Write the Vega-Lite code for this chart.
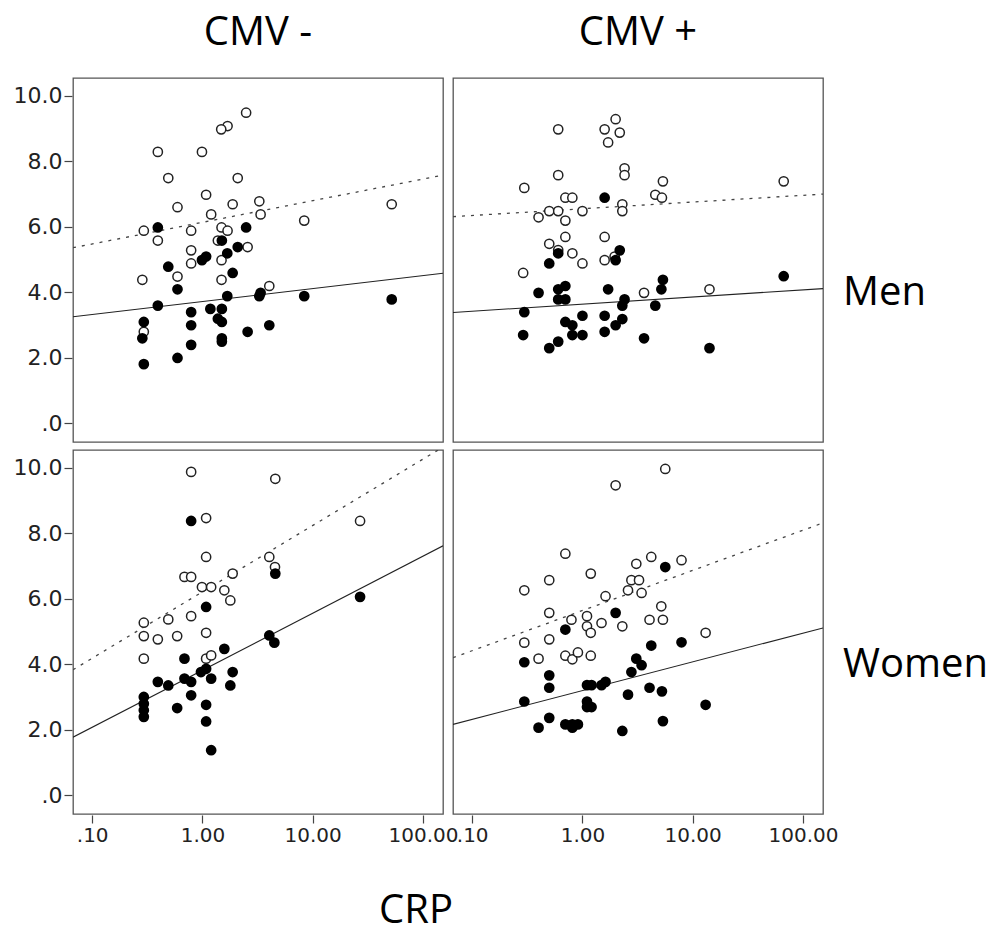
{
  "$schema": "https://vega.github.io/schema/vega-lite/v6.json",
  "padding": {"left": 13, "top": 13, "right": 0, "bottom": 8},
  "background": "white",
  "config": {
    "view": {"stroke": "#555", "strokeWidth": 1.3},
    "font": "DejaVu Sans",
    "axis": {"grid": false, "domain": false, "tickSize": 8, "tickColor": "#444", "tickWidth": 1.2, "labelFont": "DejaVu Sans", "labelFontSize": 20, "labelColor": "#222", "labelPadding": 2, "labelOverlap": false, "labelBound": false, "labelFlush": false, "title": null}
  },
  "title": {"text": "CRP", "orient": "bottom", "anchor": "start", "font": "Open Sans", "fontSize": 40, "fontWeight": "normal", "color": "#000", "offset": 46, "dx": 366},
  "data": {"values": [
    {"sex":"Men","cmv":"CMV -","crp":2.49,"val":9.49,"grp":"open"},
    {"sex":"Men","cmv":"CMV -","crp":1.69,"val":9.08,"grp":"open"},
    {"sex":"Men","cmv":"CMV -","crp":1.48,"val":8.98,"grp":"open"},
    {"sex":"Men","cmv":"CMV -","crp":0.394,"val":8.29,"grp":"open"},
    {"sex":"Men","cmv":"CMV -","crp":0.99,"val":8.29,"grp":"open"},
    {"sex":"Men","cmv":"CMV -","crp":0.49,"val":7.49,"grp":"open"},
    {"sex":"Men","cmv":"CMV -","crp":2.09,"val":7.49,"grp":"open"},
    {"sex":"Men","cmv":"CMV -","crp":1.08,"val":6.98,"grp":"open"},
    {"sex":"Men","cmv":"CMV -","crp":0.594,"val":6.6,"grp":"open"},
    {"sex":"Men","cmv":"CMV -","crp":1.88,"val":6.69,"grp":"open"},
    {"sex":"Men","cmv":"CMV -","crp":3.28,"val":6.78,"grp":"open"},
    {"sex":"Men","cmv":"CMV -","crp":52.1,"val":6.69,"grp":"open"},
    {"sex":"Men","cmv":"CMV -","crp":1.2,"val":6.38,"grp":"open"},
    {"sex":"Men","cmv":"CMV -","crp":3.37,"val":6.38,"grp":"open"},
    {"sex":"Men","cmv":"CMV -","crp":8.38,"val":6.19,"grp":"open"},
    {"sex":"Men","cmv":"CMV -","crp":0.294,"val":5.88,"grp":"open"},
    {"sex":"Men","cmv":"CMV -","crp":0.79,"val":5.88,"grp":"open"},
    {"sex":"Men","cmv":"CMV -","crp":1.49,"val":5.98,"grp":"open"},
    {"sex":"Men","cmv":"CMV -","crp":1.69,"val":5.88,"grp":"open"},
    {"sex":"Men","cmv":"CMV -","crp":0.394,"val":5.58,"grp":"open"},
    {"sex":"Men","cmv":"CMV -","crp":1.38,"val":5.58,"grp":"open"},
    {"sex":"Men","cmv":"CMV -","crp":2.57,"val":5.38,"grp":"open"},
    {"sex":"Men","cmv":"CMV -","crp":0.79,"val":5.28,"grp":"open"},
    {"sex":"Men","cmv":"CMV -","crp":0.79,"val":4.88,"grp":"open"},
    {"sex":"Men","cmv":"CMV -","crp":1.49,"val":4.98,"grp":"open"},
    {"sex":"Men","cmv":"CMV -","crp":0.285,"val":4.38,"grp":"open"},
    {"sex":"Men","cmv":"CMV -","crp":0.594,"val":4.48,"grp":"open"},
    {"sex":"Men","cmv":"CMV -","crp":1.49,"val":4.38,"grp":"open"},
    {"sex":"Men","cmv":"CMV -","crp":4.04,"val":4.19,"grp":"open"},
    {"sex":"Men","cmv":"CMV -","crp":0.294,"val":2.79,"grp":"open"},
    {"sex":"Men","cmv":"CMV -","crp":0.394,"val":5.98,"grp":"filled"},
    {"sex":"Men","cmv":"CMV -","crp":2.49,"val":5.98,"grp":"filled"},
    {"sex":"Men","cmv":"CMV -","crp":1.5,"val":5.58,"grp":"filled"},
    {"sex":"Men","cmv":"CMV -","crp":2.09,"val":5.38,"grp":"filled"},
    {"sex":"Men","cmv":"CMV -","crp":1.68,"val":5.19,"grp":"filled"},
    {"sex":"Men","cmv":"CMV -","crp":1.08,"val":5.09,"grp":"filled"},
    {"sex":"Men","cmv":"CMV -","crp":0.99,"val":4.98,"grp":"filled"},
    {"sex":"Men","cmv":"CMV -","crp":0.49,"val":4.78,"grp":"filled"},
    {"sex":"Men","cmv":"CMV -","crp":1.88,"val":4.59,"grp":"filled"},
    {"sex":"Men","cmv":"CMV -","crp":0.594,"val":4.09,"grp":"filled"},
    {"sex":"Men","cmv":"CMV -","crp":1.68,"val":3.88,"grp":"filled"},
    {"sex":"Men","cmv":"CMV -","crp":3.28,"val":3.88,"grp":"filled"},
    {"sex":"Men","cmv":"CMV -","crp":3.37,"val":3.98,"grp":"filled"},
    {"sex":"Men","cmv":"CMV -","crp":8.38,"val":3.88,"grp":"filled"},
    {"sex":"Men","cmv":"CMV -","crp":52.1,"val":3.78,"grp":"filled"},
    {"sex":"Men","cmv":"CMV -","crp":0.394,"val":3.59,"grp":"filled"},
    {"sex":"Men","cmv":"CMV -","crp":0.79,"val":3.39,"grp":"filled"},
    {"sex":"Men","cmv":"CMV -","crp":1.18,"val":3.49,"grp":"filled"},
    {"sex":"Men","cmv":"CMV -","crp":1.5,"val":3.49,"grp":"filled"},
    {"sex":"Men","cmv":"CMV -","crp":1.38,"val":3.19,"grp":"filled"},
    {"sex":"Men","cmv":"CMV -","crp":1.5,"val":3.09,"grp":"filled"},
    {"sex":"Men","cmv":"CMV -","crp":0.79,"val":2.99,"grp":"filled"},
    {"sex":"Men","cmv":"CMV -","crp":0.294,"val":3.09,"grp":"filled"},
    {"sex":"Men","cmv":"CMV -","crp":4.04,"val":2.99,"grp":"filled"},
    {"sex":"Men","cmv":"CMV -","crp":2.57,"val":2.79,"grp":"filled"},
    {"sex":"Men","cmv":"CMV -","crp":0.285,"val":2.59,"grp":"filled"},
    {"sex":"Men","cmv":"CMV -","crp":1.5,"val":2.59,"grp":"filled"},
    {"sex":"Men","cmv":"CMV -","crp":1.5,"val":2.49,"grp":"filled"},
    {"sex":"Men","cmv":"CMV -","crp":0.79,"val":2.39,"grp":"filled"},
    {"sex":"Men","cmv":"CMV -","crp":0.594,"val":1.99,"grp":"filled"},
    {"sex":"Men","cmv":"CMV -","crp":0.294,"val":1.8,"grp":"filled"},
    {"sex":"Men","cmv":"CMV +","crp":2.0,"val":9.29,"grp":"open"},
    {"sex":"Men","cmv":"CMV +","crp":0.603,"val":8.98,"grp":"open"},
    {"sex":"Men","cmv":"CMV +","crp":1.59,"val":8.98,"grp":"open"},
    {"sex":"Men","cmv":"CMV +","crp":2.18,"val":8.88,"grp":"open"},
    {"sex":"Men","cmv":"CMV +","crp":1.71,"val":8.58,"grp":"open"},
    {"sex":"Men","cmv":"CMV +","crp":2.41,"val":7.79,"grp":"open"},
    {"sex":"Men","cmv":"CMV +","crp":2.41,"val":7.58,"grp":"open"},
    {"sex":"Men","cmv":"CMV +","crp":0.603,"val":7.58,"grp":"open"},
    {"sex":"Men","cmv":"CMV +","crp":5.37,"val":7.39,"grp":"open"},
    {"sex":"Men","cmv":"CMV +","crp":66.9,"val":7.39,"grp":"open"},
    {"sex":"Men","cmv":"CMV +","crp":0.297,"val":7.19,"grp":"open"},
    {"sex":"Men","cmv":"CMV +","crp":0.7,"val":6.89,"grp":"open"},
    {"sex":"Men","cmv":"CMV +","crp":0.81,"val":6.89,"grp":"open"},
    {"sex":"Men","cmv":"CMV +","crp":4.58,"val":6.98,"grp":"open"},
    {"sex":"Men","cmv":"CMV +","crp":5.26,"val":6.89,"grp":"open"},
    {"sex":"Men","cmv":"CMV +","crp":2.3,"val":6.69,"grp":"open"},
    {"sex":"Men","cmv":"CMV +","crp":2.3,"val":6.48,"grp":"open"},
    {"sex":"Men","cmv":"CMV +","crp":0.5,"val":6.48,"grp":"open"},
    {"sex":"Men","cmv":"CMV +","crp":0.603,"val":6.48,"grp":"open"},
    {"sex":"Men","cmv":"CMV +","crp":1.0,"val":6.48,"grp":"open"},
    {"sex":"Men","cmv":"CMV +","crp":0.4,"val":6.29,"grp":"open"},
    {"sex":"Men","cmv":"CMV +","crp":0.7,"val":6.19,"grp":"open"},
    {"sex":"Men","cmv":"CMV +","crp":0.7,"val":5.69,"grp":"open"},
    {"sex":"Men","cmv":"CMV +","crp":1.59,"val":5.69,"grp":"open"},
    {"sex":"Men","cmv":"CMV +","crp":0.5,"val":5.48,"grp":"open"},
    {"sex":"Men","cmv":"CMV +","crp":0.603,"val":5.29,"grp":"open"},
    {"sex":"Men","cmv":"CMV +","crp":0.81,"val":5.19,"grp":"open"},
    {"sex":"Men","cmv":"CMV +","crp":1.96,"val":5.09,"grp":"open"},
    {"sex":"Men","cmv":"CMV +","crp":1.59,"val":4.98,"grp":"open"},
    {"sex":"Men","cmv":"CMV +","crp":1.0,"val":4.88,"grp":"open"},
    {"sex":"Men","cmv":"CMV +","crp":0.29,"val":4.59,"grp":"open"},
    {"sex":"Men","cmv":"CMV +","crp":3.62,"val":3.98,"grp":"open"},
    {"sex":"Men","cmv":"CMV +","crp":14.2,"val":4.09,"grp":"open"},
    {"sex":"Men","cmv":"CMV +","crp":1.59,"val":6.89,"grp":"filled"},
    {"sex":"Men","cmv":"CMV +","crp":2.18,"val":5.28,"grp":"filled"},
    {"sex":"Men","cmv":"CMV +","crp":0.603,"val":5.19,"grp":"filled"},
    {"sex":"Men","cmv":"CMV +","crp":2.0,"val":4.98,"grp":"filled"},
    {"sex":"Men","cmv":"CMV +","crp":0.5,"val":4.88,"grp":"filled"},
    {"sex":"Men","cmv":"CMV +","crp":66.9,"val":4.49,"grp":"filled"},
    {"sex":"Men","cmv":"CMV +","crp":5.37,"val":4.38,"grp":"filled"},
    {"sex":"Men","cmv":"CMV +","crp":0.7,"val":4.19,"grp":"filled"},
    {"sex":"Men","cmv":"CMV +","crp":0.603,"val":4.09,"grp":"filled"},
    {"sex":"Men","cmv":"CMV +","crp":1.71,"val":4.09,"grp":"filled"},
    {"sex":"Men","cmv":"CMV +","crp":0.4,"val":3.98,"grp":"filled"},
    {"sex":"Men","cmv":"CMV +","crp":5.2,"val":4.09,"grp":"filled"},
    {"sex":"Men","cmv":"CMV +","crp":0.603,"val":3.78,"grp":"filled"},
    {"sex":"Men","cmv":"CMV +","crp":0.7,"val":3.78,"grp":"filled"},
    {"sex":"Men","cmv":"CMV +","crp":2.41,"val":3.78,"grp":"filled"},
    {"sex":"Men","cmv":"CMV +","crp":2.3,"val":3.59,"grp":"filled"},
    {"sex":"Men","cmv":"CMV +","crp":4.58,"val":3.59,"grp":"filled"},
    {"sex":"Men","cmv":"CMV +","crp":0.297,"val":3.39,"grp":"filled"},
    {"sex":"Men","cmv":"CMV +","crp":1.0,"val":3.28,"grp":"filled"},
    {"sex":"Men","cmv":"CMV +","crp":1.59,"val":3.28,"grp":"filled"},
    {"sex":"Men","cmv":"CMV +","crp":2.3,"val":3.18,"grp":"filled"},
    {"sex":"Men","cmv":"CMV +","crp":0.7,"val":3.09,"grp":"filled"},
    {"sex":"Men","cmv":"CMV +","crp":0.81,"val":2.99,"grp":"filled"},
    {"sex":"Men","cmv":"CMV +","crp":2.0,"val":2.99,"grp":"filled"},
    {"sex":"Men","cmv":"CMV +","crp":0.29,"val":2.69,"grp":"filled"},
    {"sex":"Men","cmv":"CMV +","crp":0.81,"val":2.69,"grp":"filled"},
    {"sex":"Men","cmv":"CMV +","crp":1.0,"val":2.69,"grp":"filled"},
    {"sex":"Men","cmv":"CMV +","crp":1.59,"val":2.79,"grp":"filled"},
    {"sex":"Men","cmv":"CMV +","crp":3.62,"val":2.59,"grp":"filled"},
    {"sex":"Men","cmv":"CMV +","crp":0.603,"val":2.49,"grp":"filled"},
    {"sex":"Men","cmv":"CMV +","crp":0.5,"val":2.29,"grp":"filled"},
    {"sex":"Men","cmv":"CMV +","crp":14.2,"val":2.29,"grp":"filled"},
    {"sex":"Women","cmv":"CMV -","crp":0.79,"val":9.88,"grp":"open"},
    {"sex":"Women","cmv":"CMV -","crp":4.58,"val":9.67,"grp":"open"},
    {"sex":"Women","cmv":"CMV -","crp":1.08,"val":8.47,"grp":"open"},
    {"sex":"Women","cmv":"CMV -","crp":26.9,"val":8.38,"grp":"open"},
    {"sex":"Women","cmv":"CMV -","crp":1.08,"val":7.28,"grp":"open"},
    {"sex":"Women","cmv":"CMV -","crp":4.04,"val":7.28,"grp":"open"},
    {"sex":"Women","cmv":"CMV -","crp":4.55,"val":6.97,"grp":"open"},
    {"sex":"Women","cmv":"CMV -","crp":0.687,"val":6.67,"grp":"open"},
    {"sex":"Women","cmv":"CMV -","crp":0.79,"val":6.67,"grp":"open"},
    {"sex":"Women","cmv":"CMV -","crp":1.88,"val":6.77,"grp":"open"},
    {"sex":"Women","cmv":"CMV -","crp":0.99,"val":6.36,"grp":"open"},
    {"sex":"Women","cmv":"CMV -","crp":1.2,"val":6.36,"grp":"open"},
    {"sex":"Women","cmv":"CMV -","crp":1.58,"val":6.26,"grp":"open"},
    {"sex":"Women","cmv":"CMV -","crp":1.79,"val":5.95,"grp":"open"},
    {"sex":"Women","cmv":"CMV -","crp":0.49,"val":5.37,"grp":"open"},
    {"sex":"Women","cmv":"CMV -","crp":0.79,"val":5.47,"grp":"open"},
    {"sex":"Women","cmv":"CMV -","crp":0.294,"val":5.27,"grp":"open"},
    {"sex":"Women","cmv":"CMV -","crp":0.294,"val":4.86,"grp":"open"},
    {"sex":"Women","cmv":"CMV -","crp":0.394,"val":4.76,"grp":"open"},
    {"sex":"Women","cmv":"CMV -","crp":0.59,"val":4.86,"grp":"open"},
    {"sex":"Women","cmv":"CMV -","crp":1.08,"val":4.96,"grp":"open"},
    {"sex":"Women","cmv":"CMV -","crp":0.294,"val":4.17,"grp":"open"},
    {"sex":"Women","cmv":"CMV -","crp":1.08,"val":4.17,"grp":"open"},
    {"sex":"Women","cmv":"CMV -","crp":1.2,"val":4.27,"grp":"open"},
    {"sex":"Women","cmv":"CMV -","crp":0.79,"val":8.38,"grp":"filled"},
    {"sex":"Women","cmv":"CMV -","crp":4.58,"val":6.77,"grp":"filled"},
    {"sex":"Women","cmv":"CMV -","crp":26.9,"val":6.06,"grp":"filled"},
    {"sex":"Women","cmv":"CMV -","crp":1.08,"val":5.75,"grp":"filled"},
    {"sex":"Women","cmv":"CMV -","crp":4.04,"val":4.88,"grp":"filled"},
    {"sex":"Women","cmv":"CMV -","crp":4.49,"val":4.66,"grp":"filled"},
    {"sex":"Women","cmv":"CMV -","crp":1.58,"val":4.47,"grp":"filled"},
    {"sex":"Women","cmv":"CMV -","crp":0.687,"val":4.17,"grp":"filled"},
    {"sex":"Women","cmv":"CMV -","crp":1.88,"val":3.76,"grp":"filled"},
    {"sex":"Women","cmv":"CMV -","crp":0.97,"val":3.76,"grp":"filled"},
    {"sex":"Women","cmv":"CMV -","crp":1.08,"val":3.86,"grp":"filled"},
    {"sex":"Women","cmv":"CMV -","crp":0.394,"val":3.46,"grp":"filled"},
    {"sex":"Women","cmv":"CMV -","crp":0.49,"val":3.35,"grp":"filled"},
    {"sex":"Women","cmv":"CMV -","crp":0.687,"val":3.56,"grp":"filled"},
    {"sex":"Women","cmv":"CMV -","crp":0.79,"val":3.46,"grp":"filled"},
    {"sex":"Women","cmv":"CMV -","crp":1.2,"val":3.56,"grp":"filled"},
    {"sex":"Women","cmv":"CMV -","crp":1.79,"val":3.35,"grp":"filled"},
    {"sex":"Women","cmv":"CMV -","crp":0.79,"val":3.05,"grp":"filled"},
    {"sex":"Women","cmv":"CMV -","crp":0.294,"val":3.0,"grp":"filled"},
    {"sex":"Women","cmv":"CMV -","crp":0.294,"val":2.79,"grp":"filled"},
    {"sex":"Women","cmv":"CMV -","crp":0.294,"val":2.59,"grp":"filled"},
    {"sex":"Women","cmv":"CMV -","crp":0.294,"val":2.39,"grp":"filled"},
    {"sex":"Women","cmv":"CMV -","crp":0.59,"val":2.66,"grp":"filled"},
    {"sex":"Women","cmv":"CMV -","crp":1.08,"val":2.76,"grp":"filled"},
    {"sex":"Women","cmv":"CMV -","crp":1.08,"val":2.25,"grp":"filled"},
    {"sex":"Women","cmv":"CMV -","crp":1.2,"val":1.37,"grp":"filled"},
    {"sex":"Women","cmv":"CMV +","crp":5.64,"val":9.97,"grp":"open"},
    {"sex":"Women","cmv":"CMV +","crp":2.0,"val":9.47,"grp":"open"},
    {"sex":"Women","cmv":"CMV +","crp":0.7,"val":7.38,"grp":"open"},
    {"sex":"Women","cmv":"CMV +","crp":4.21,"val":7.28,"grp":"open"},
    {"sex":"Women","cmv":"CMV +","crp":7.92,"val":7.18,"grp":"open"},
    {"sex":"Women","cmv":"CMV +","crp":3.08,"val":7.07,"grp":"open"},
    {"sex":"Women","cmv":"CMV +","crp":1.19,"val":6.77,"grp":"open"},
    {"sex":"Women","cmv":"CMV +","crp":0.5,"val":6.57,"grp":"open"},
    {"sex":"Women","cmv":"CMV +","crp":2.78,"val":6.57,"grp":"open"},
    {"sex":"Women","cmv":"CMV +","crp":3.26,"val":6.57,"grp":"open"},
    {"sex":"Women","cmv":"CMV +","crp":0.297,"val":6.26,"grp":"open"},
    {"sex":"Women","cmv":"CMV +","crp":2.59,"val":6.26,"grp":"open"},
    {"sex":"Women","cmv":"CMV +","crp":3.44,"val":6.18,"grp":"open"},
    {"sex":"Women","cmv":"CMV +","crp":1.62,"val":6.08,"grp":"open"},
    {"sex":"Women","cmv":"CMV +","crp":5.19,"val":5.77,"grp":"open"},
    {"sex":"Women","cmv":"CMV +","crp":0.5,"val":5.57,"grp":"open"},
    {"sex":"Women","cmv":"CMV +","crp":1.1,"val":5.47,"grp":"open"},
    {"sex":"Women","cmv":"CMV +","crp":0.795,"val":5.36,"grp":"open"},
    {"sex":"Women","cmv":"CMV +","crp":1.49,"val":5.26,"grp":"open"},
    {"sex":"Women","cmv":"CMV +","crp":4.06,"val":5.36,"grp":"open"},
    {"sex":"Women","cmv":"CMV +","crp":5.37,"val":5.36,"grp":"open"},
    {"sex":"Women","cmv":"CMV +","crp":1.1,"val":5.16,"grp":"open"},
    {"sex":"Women","cmv":"CMV +","crp":2.3,"val":5.16,"grp":"open"},
    {"sex":"Women","cmv":"CMV +","crp":1.19,"val":4.96,"grp":"open"},
    {"sex":"Women","cmv":"CMV +","crp":13.1,"val":4.96,"grp":"open"},
    {"sex":"Women","cmv":"CMV +","crp":0.297,"val":4.66,"grp":"open"},
    {"sex":"Women","cmv":"CMV +","crp":0.5,"val":4.76,"grp":"open"},
    {"sex":"Women","cmv":"CMV +","crp":0.4,"val":4.17,"grp":"open"},
    {"sex":"Women","cmv":"CMV +","crp":0.7,"val":4.26,"grp":"open"},
    {"sex":"Women","cmv":"CMV +","crp":0.81,"val":4.15,"grp":"open"},
    {"sex":"Women","cmv":"CMV +","crp":0.91,"val":4.36,"grp":"open"},
    {"sex":"Women","cmv":"CMV +","crp":1.19,"val":4.26,"grp":"open"},
    {"sex":"Women","cmv":"CMV +","crp":5.64,"val":6.97,"grp":"filled"},
    {"sex":"Women","cmv":"CMV +","crp":2.0,"val":5.57,"grp":"filled"},
    {"sex":"Women","cmv":"CMV +","crp":0.7,"val":5.06,"grp":"filled"},
    {"sex":"Women","cmv":"CMV +","crp":4.21,"val":4.57,"grp":"filled"},
    {"sex":"Women","cmv":"CMV +","crp":7.92,"val":4.67,"grp":"filled"},
    {"sex":"Women","cmv":"CMV +","crp":0.297,"val":4.06,"grp":"filled"},
    {"sex":"Women","cmv":"CMV +","crp":3.08,"val":4.17,"grp":"filled"},
    {"sex":"Women","cmv":"CMV +","crp":3.44,"val":3.97,"grp":"filled"},
    {"sex":"Women","cmv":"CMV +","crp":2.78,"val":3.76,"grp":"filled"},
    {"sex":"Women","cmv":"CMV +","crp":0.5,"val":3.66,"grp":"filled"},
    {"sex":"Women","cmv":"CMV +","crp":0.5,"val":3.28,"grp":"filled"},
    {"sex":"Women","cmv":"CMV +","crp":1.1,"val":3.36,"grp":"filled"},
    {"sex":"Women","cmv":"CMV +","crp":1.21,"val":3.36,"grp":"filled"},
    {"sex":"Women","cmv":"CMV +","crp":1.49,"val":3.36,"grp":"filled"},
    {"sex":"Women","cmv":"CMV +","crp":1.62,"val":3.46,"grp":"filled"},
    {"sex":"Women","cmv":"CMV +","crp":4.06,"val":3.28,"grp":"filled"},
    {"sex":"Women","cmv":"CMV +","crp":5.26,"val":3.17,"grp":"filled"},
    {"sex":"Women","cmv":"CMV +","crp":2.59,"val":3.07,"grp":"filled"},
    {"sex":"Women","cmv":"CMV +","crp":0.297,"val":2.86,"grp":"filled"},
    {"sex":"Women","cmv":"CMV +","crp":1.1,"val":2.86,"grp":"filled"},
    {"sex":"Women","cmv":"CMV +","crp":1.1,"val":2.69,"grp":"filled"},
    {"sex":"Women","cmv":"CMV +","crp":1.21,"val":2.69,"grp":"filled"},
    {"sex":"Women","cmv":"CMV +","crp":13.1,"val":2.76,"grp":"filled"},
    {"sex":"Women","cmv":"CMV +","crp":0.5,"val":2.36,"grp":"filled"},
    {"sex":"Women","cmv":"CMV +","crp":0.4,"val":2.06,"grp":"filled"},
    {"sex":"Women","cmv":"CMV +","crp":0.7,"val":2.16,"grp":"filled"},
    {"sex":"Women","cmv":"CMV +","crp":0.81,"val":2.06,"grp":"filled"},
    {"sex":"Women","cmv":"CMV +","crp":0.81,"val":2.16,"grp":"filled"},
    {"sex":"Women","cmv":"CMV +","crp":0.91,"val":2.16,"grp":"filled"},
    {"sex":"Women","cmv":"CMV +","crp":2.3,"val":1.96,"grp":"filled"},
    {"sex":"Women","cmv":"CMV +","crp":5.37,"val":2.26,"grp":"filled"},
    {"sex":"Men","cmv":"CMV -","crp":0.067,"val":5.36,"grp":"fitOpen"},
    {"sex":"Men","cmv":"CMV -","crp":152,"val":7.58,"grp":"fitOpen"},
    {"sex":"Men","cmv":"CMV -","crp":0.067,"val":3.25,"grp":"fitFilled"},
    {"sex":"Men","cmv":"CMV -","crp":152,"val":4.58,"grp":"fitFilled"},
    {"sex":"Men","cmv":"CMV +","crp":0.067,"val":6.31,"grp":"fitOpen"},
    {"sex":"Men","cmv":"CMV +","crp":152,"val":7.0,"grp":"fitOpen"},
    {"sex":"Men","cmv":"CMV +","crp":0.067,"val":3.38,"grp":"fitFilled"},
    {"sex":"Men","cmv":"CMV +","crp":152,"val":4.11,"grp":"fitFilled"},
    {"sex":"Women","cmv":"CMV -","crp":0.067,"val":3.83,"grp":"fitOpen"},
    {"sex":"Women","cmv":"CMV -","crp":152,"val":10.64,"grp":"fitOpen"},
    {"sex":"Women","cmv":"CMV -","crp":0.067,"val":1.77,"grp":"fitFilled"},
    {"sex":"Women","cmv":"CMV -","crp":152,"val":7.62,"grp":"fitFilled"},
    {"sex":"Women","cmv":"CMV +","crp":0.067,"val":4.2,"grp":"fitOpen"},
    {"sex":"Women","cmv":"CMV +","crp":152,"val":8.32,"grp":"fitOpen"},
    {"sex":"Women","cmv":"CMV +","crp":0.067,"val":2.16,"grp":"fitFilled"},
    {"sex":"Women","cmv":"CMV +","crp":152,"val":5.11,"grp":"fitFilled"}
  ]},
  "spacing": {"row": 6, "column": 8},
  "facet": {
    "column": {"field": "cmv", "type": "nominal", "sort": ["CMV -", "CMV +"], "title": null,
      "header": {"labelFont": "Open Sans", "labelFontSize": 40, "labelColor": "#000", "labelPadding": 24}},
    "row": {"field": "sex", "type": "nominal", "sort": ["Men", "Women"], "title": null,
      "header": {"labelOrient": "right", "labelAngle": 0, "labelAlign": "right", "labelBaseline": "line-top", "labelLineHeight": 66, "labelFont": "Open Sans", "labelFontSize": 40, "labelColor": "#000", "labelPadding": 19}}
  },
  "spec": {
    "width": 370,
    "height": 364,
    "encoding": {
      "x": {"field": "crp", "type": "quantitative",
        "scale": {"type": "log", "domain": [0.067, 152], "nice": false},
        "axis": {"values": [0.1, 1, 10, 100], "labelExpr": "datum.value < 0.5 ? '.10' : format(datum.value, '.2f')"}},
      "y": {"field": "val", "type": "quantitative",
        "scale": {"domain": [-0.58, 10.55], "nice": false, "zero": false},
        "axis": {"values": [0, 2, 4, 6, 8, 10], "labelFontSize": 22, "labelExpr": "datum.value == 0 ? '.0' : format(datum.value, '.1f')"}}
    },
    "layer": [
      {"transform": [{"filter": "datum.grp == 'fitOpen'"}],
       "mark": {"type": "line", "clip": true, "color": "#444", "strokeWidth": 1.3, "strokeDash": [3, 6]}},
      {"transform": [{"filter": "datum.grp == 'fitFilled'"}],
       "mark": {"type": "line", "clip": true, "color": "#222", "strokeWidth": 1.1}},
      {"transform": [{"filter": "datum.grp == 'open'"}],
       "mark": {"type": "point", "shape": "circle", "filled": false, "fill": "white", "fillOpacity": 1, "stroke": "#222", "strokeWidth": 1.5, "size": 85, "opacity": 1}},
      {"transform": [{"filter": "datum.grp == 'filled'"}],
       "mark": {"type": "point", "shape": "circle", "filled": true, "color": "#000", "size": 115, "opacity": 1}}
    ]
  }
}
